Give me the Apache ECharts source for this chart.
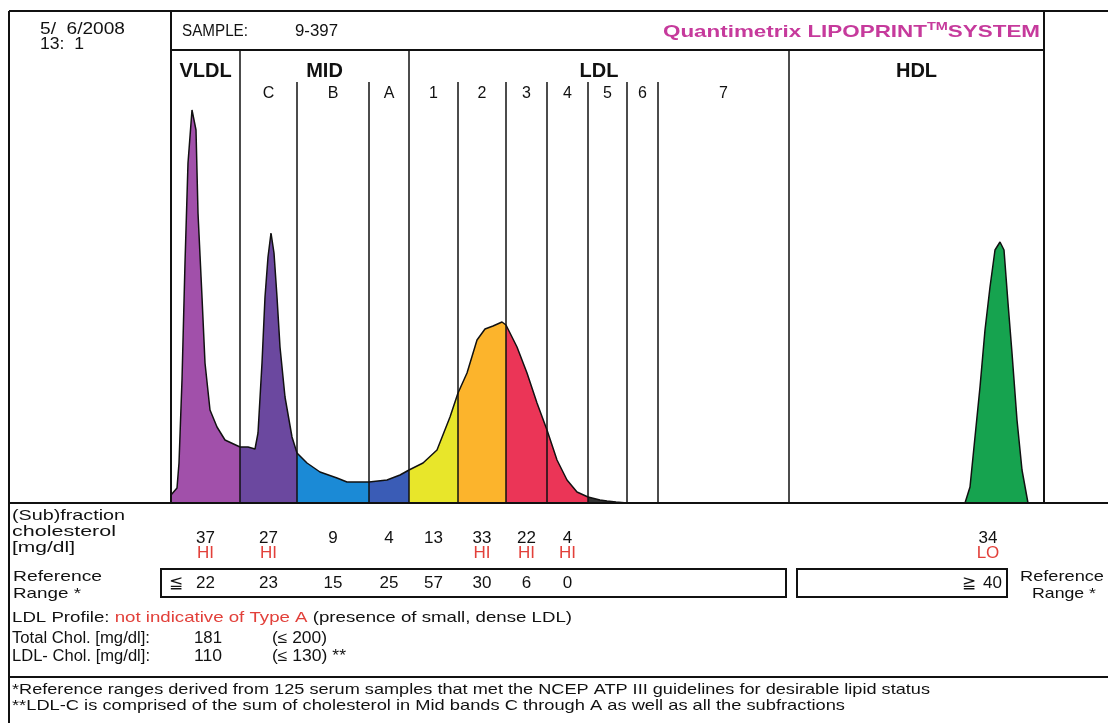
<!DOCTYPE html>
<html><head><meta charset="utf-8">
<script src="https://cdn.jsdelivr.net/npm/echarts@6/dist/echarts.min.js"></script>
<style>html,body{margin:0;padding:0;background:#fff}#c{width:1108px;height:723px}</style>
</head><body><div id="c"></div><script>
// ---- data (migration distance units, relative density) ----
const bandNames = ['VLDL','C','B','A','1','2','3','4','5','6','7','HDL'];
const bandEdges = [0,69,126,198,238,287,335,376,417,456,487,618,873];
const tallEdges = [69,238,618];
const groupLabels = [['VLDL',0,69],['MID',69,238],['LDL',238,618],['HDL',618,873]];
const curve = [
  [0,8],[6,15],[8,40],[11,123],[14,240],[17,340],[21,393],[25,373],[27,290],[31,206],[34,140],[39,93],[46,76],[54,63],[69,56],
  [77,56],[84,54],[87,70],[91,140],[94,206],[97,246],[100,270],[103,250],[106,206],[109,156],[114,106],[121,66],[126,50],
  [136,40],[149,31],[166,25],[176,21],[198,21],
  [216,23],[229,28],[238,33],
  [252,40],[266,53],[279,86],[287,110],
  [296,130],[306,163],[314,174],[322,177],[331,181],[335,178],
  [346,156],[356,130],[366,100],[376,73],
  [386,43],[396,23],[406,11],[417,6],
  [429,3],[436,2],[445,1],[456,0]
];
const hdlCurve = [[794,0],[799,16],[804,66],[809,116],[814,173],[819,216],[824,253],[829,261],[833,253],[837,200],[841,150],[846,83],[851,33],[857,0]];
const subfractionChol = ['37','27','9','4','13','33','22','4','','','','34'];
const flags = ['HI','HI','','','','HI','HI','HI','','','','LO'];
const refRange = ['22','23','15','25','57','30','6','0','','','','40'];
const totalChol = 181, totalRef = '≤ 200';
const ldlChol = 110, ldlRef = '≤ 130';

// ---- styles ----
const bandColors = ['#a150aa','#6b489f','#1b8ad6','#3a5cb6','#e8e62a','#fcb42c','#eb3557','#eb3557','#333333','#333333','#333333','#16a34f'];
const FONT = "'Liberation Sans', Arial, sans-serif";
const INK = '#111';
const RED = '#e2403a';

const chart = echarts.init(document.getElementById('c'), null, {renderer:'canvas'});
const series = [];
for (let i = 0; i < bandNames.length - 1; i++) {
  const lo = bandEdges[i], hi = bandEdges[i+1];
  const pts = curve.filter(p => p[0] >= lo && p[0] <= hi);
  if (pts.length < 2) continue;
  series.push({type:'line', name:bandNames[i], data:pts, showSymbol:false, smooth:false, silent:true,
    lineStyle:{color:INK, width:1.5}, areaStyle:{color:bandColors[i], opacity:1}, z:2});
}
const dividerLines = bandEdges.slice(1, -1).map(e => [{coord:[e,0]},{coord:[e, tallEdges.includes(e) ? 453 : 421]}]);
series.push({type:'line', name:'HDL', data:hdlCurve, showSymbol:false, silent:true,
  lineStyle:{color:INK, width:1.5}, areaStyle:{color:bandColors[11], opacity:1}, z:2,
  markLine:{silent:true, symbol:['none','none'], label:{show:false}, animation:false,
    lineStyle:{color:INK, width:1.5, type:'solid'}, emphasis:{disabled:true}, data:dividerLines}});

chart.setOption({
  animation:false,
  grid:{left:171, right:64, top:50, bottom:220},
  xAxis:{type:'value', min:0, max:873, show:false},
  yAxis:{type:'value', min:0, max:453, show:false},
  series
});

const px = v => chart.convertToPixel({gridIndex:0}, [v,0])[0];
const mctx = document.createElement('canvas').getContext('2d');
const measure = (text, font) => { mctx.font = font; return mctx.measureText(text).width; };
const g = [];
// o.width: stretch text horizontally to this width
const txt = (x,y,text,o={}) => {
  const font = (o.weight||'normal')+' '+(o.size||15)+'px '+(o.family||FONT);
  let sx = 1;
  if (o.width) sx = o.width / (o.measured || measure(o.plain || text, font));
  g.push({type:'text', x, y, scaleX:sx, silent:true, z:10, style:Object.assign({text, fill:o.fill||INK,
    font, align:o.align||'left', verticalAlign:'middle'}, o.extra||{})});
};
const line = (x1,y1,x2,y2,w=2) => g.push({type:'line', silent:true, z:9, shape:{x1,y1,x2,y2}, style:{stroke:INK, lineWidth:w}});
const rect = (x,y,w,h) => g.push({type:'rect', silent:true, z:9, shape:{x,y,width:w,height:h}, style:{fill:'none', stroke:INK, lineWidth:2}});

// frame
line(9,11,1108,11); line(9,11,9,723); line(171,11,171,503); line(1044,11,1044,503);
line(171,50,1044,50); line(9,503,1108,503,2); line(9,677,1108,677);

// header
txt(40,30,'5/  6/2008',{size:16, width:85}); txt(40,45,'13:  1',{size:16, width:44});
txt(182,32,'SAMPLE:',{size:16, width:66}); txt(295,32,'9-397',{size:16, width:43});
{
  const qf = 'bold 17px '+FONT;
  const w = measure('Quantimetrix LIPOPRINT', qf) + measure('TM', 'bold 11px '+FONT) + measure('SYSTEM', qf);
  txt(1040,32,'Quantimetrix LIPOPRINT{sup|TM}SYSTEM',{size:17, weight:'bold', align:'right', width:377, measured:w, fill:'#c63a9c',
    extra:{rich:{sup:{fontSize:11, fontWeight:'bold', fill:'#c63a9c', verticalAlign:'top', padding:[0,0,11,0], fontFamily:FONT}}}});
}

// group labels & band labels
groupLabels.forEach(([n,a,b]) => txt(px((a+b)/2), 71, n, {weight:'bold', size:20, align:'center'}));
for (let i = 1; i < bandNames.length - 1; i++) txt(px((bandEdges[i]+bandEdges[i+1])/2), 94, bandNames[i], {align:'center', size:16});

// table
txt(12,516,'(Sub)fraction',{size:15, width:113}); txt(12,532,'cholesterol',{size:15, width:104}); txt(12,548,'[mg/dl]',{size:15, width:63});
txt(13,577,'Reference',{size:15, width:89}); txt(13,594,'Range *',{size:15, width:68});
txt(1062,577,'Reference',{size:15, align:'center', width:84}); txt(1064,594,'Range *',{size:15, align:'center', width:64});
rect(161,569,625,28); rect(797,569,210,28);
for (let i = 0; i < bandNames.length - 1; i++) {
  const cx = px((bandEdges[i]+bandEdges[i+1])/2);
  if (subfractionChol[i]) txt(cx,538,subfractionChol[i],{align:'center', size:17});
  if (flags[i]) txt(cx,553,flags[i],{align:'center', size:17, fill:RED});
  if (refRange[i]) txt(cx,583,refRange[i],{align:'center', size:17});
}
txt(988,538,subfractionChol[11],{align:'center', size:17});
txt(988,553,flags[11],{align:'center', size:17, fill:RED});
txt(1002,583,refRange[11],{align:'right', size:17}); txt(976,583,'≧',{align:'right', size:17});
txt(176,583,'≦',{align:'center', size:17});

txt(12,618,'LDL Profile: {r|not indicative of Type A} (presence of small, dense LDL)',
  {size:15, width:560, plain:'LDL Profile: not indicative of Type A (presence of small, dense LDL)',
   extra:{rich:{r:{fill:RED, fontSize:15, fontFamily:FONT}}}});
txt(12,639,'Total Chol. [mg/dl]:',{size:16, width:138}); txt(194,639,String(totalChol),{size:16, width:28}); txt(272,639,'('+totalRef+')',{size:16, width:55});
txt(12,657,'LDL- Chol. [mg/dl]:',{size:16, width:138}); txt(194,657,String(ldlChol),{size:16, width:28}); txt(272,657,'('+ldlRef+') **',{size:16, width:74});

// footnotes
txt(12,690,'*Reference ranges derived from 125 serum samples that met the NCEP ATP III guidelines for desirable lipid status',{size:15, width:918});
txt(12,706,'**LDL-C is comprised of the sum of cholesterol in Mid bands C through A as well as all the subfractions',{size:15, width:833});

chart.setOption({graphic:{elements:g}});
</script></body></html>
